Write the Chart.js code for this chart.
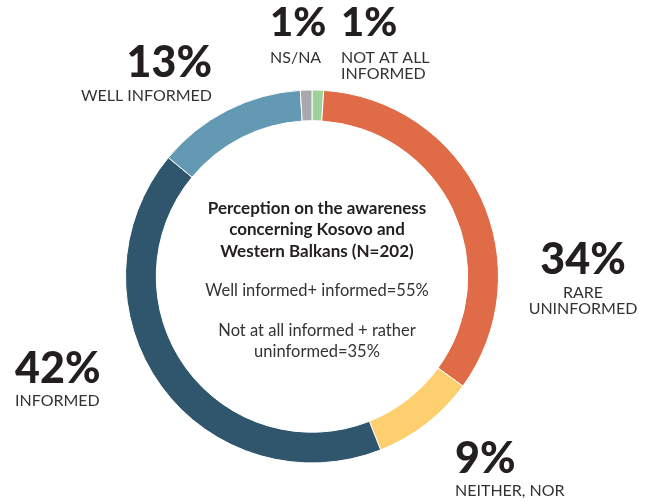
<!DOCTYPE html>
<html>
<head>
<meta charset="utf-8">
<script src="https://cdn.jsdelivr.net/npm/chart.js@4/dist/chart.umd.min.js"></script>
<style>
html,body{margin:0;padding:0;background:#fff;}
canvas{display:block;}
</style>
</head>
<body>
<canvas id="c" width="647" height="501"></canvas>
<script>
const categories = ["NOT AT ALL INFORMED", "RARE UNINFORMED", "NEITHER, NOR", "INFORMED", "WELL INFORMED", "NS/NA"];
const values = [1, 34, 9, 42, 13, 1];
const percentLabels = ["1%", "34%", "9%", "42%", "13%", "1%"];
const categoryLines = [["NOT AT ALL", "INFORMED"], ["RARE", "UNINFORMED"], ["NEITHER, NOR"], ["INFORMED"], ["WELL INFORMED"], ["NS/NA"]];
const centerTitle = ["Perception on the awareness", "concerning Kosovo and", "Western Balkans (N=202)"];
const centerNotes = [["Well informed+ informed=55%"], ["Not at all informed + rather", "uninformed=35%"]];
const colors = ["#9DD39A", "#E06C47", "#FDCF6F", "#30566E", "#6399B3", "#A8A9AE"];

// label anchor offsets relative to the doughnut centre, with alignment
const labelPlacement = [
  {dx: 29, dy: -241, align: "left", size: 40, sub: 27},
  {dx: 271, dy: -3, align: "center", size: 43, sub: 24},
  {dx: 143, dy: 196, align: "left", size: 43, sub: 23},
  {dx: -297, dy: 106, align: "left", size: 43, sub: 23},
  {dx: -100, dy: -200, align: "right", size: 43, sub: 24},
  {dx: -42, dy: -241, align: "left", size: 40, sub: 27}
];

const labelPlugin = {
  id: "labels",
  afterDraw(chart) {
    const ctx = chart.ctx;
    const arc = chart.getDatasetMeta(0).data[0];
    const cx = arc.x, cy = arc.y;
    ctx.save();
    ctx.textBaseline = "alphabetic";
    values.forEach((v, i) => {
      const p = labelPlacement[i];
      const x = cx + p.dx, y = cy + p.dy;
      ctx.textAlign = p.align;
      ctx.fillStyle = "#231F20";
      ctx.font = "900 " + p.size + "px Lato";
      ctx.fillText(percentLabels[i], x, y);
      ctx.fillStyle = "#333333";
      ctx.font = "400 16px Lato";
      categoryLines[i].forEach((line, j) => {
        ctx.fillText(line, x, y + p.sub + j * 16);
      });
    });
    // centre text
    ctx.textAlign = "center";
    ctx.fillStyle = "#231F20";
    ctx.font = "700 17px Lato";
    centerTitle.forEach((line, j) => ctx.fillText(line, cx + 5, cy - 63 + j * 21.5));
    ctx.font = "400 16.5px Lato";
    ctx.fillStyle = "#333333";
    ctx.fillText(centerNotes[0][0], cx + 5, cy + 19);
    centerNotes[1].forEach((line, j) => ctx.fillText(line, cx + 5, cy + 59 + j * 21));
    ctx.restore();
  }
};

new Chart(document.getElementById("c"), {
  type: "doughnut",
  data: {
    labels: categories,
    datasets: [{
      data: values,
      backgroundColor: colors,
      borderColor: "#ffffff",
      borderWidth: 1
    }]
  },
  options: {
    responsive: false,
    animation: false,
    cutout: "83.5%",
    layout: {padding: {left: 125, right: 148, top: 89, bottom: 37}},
    plugins: {legend: {display: false}, tooltip: {enabled: false}}
  },
  plugins: [labelPlugin]
});
</script>
</body>
</html>
